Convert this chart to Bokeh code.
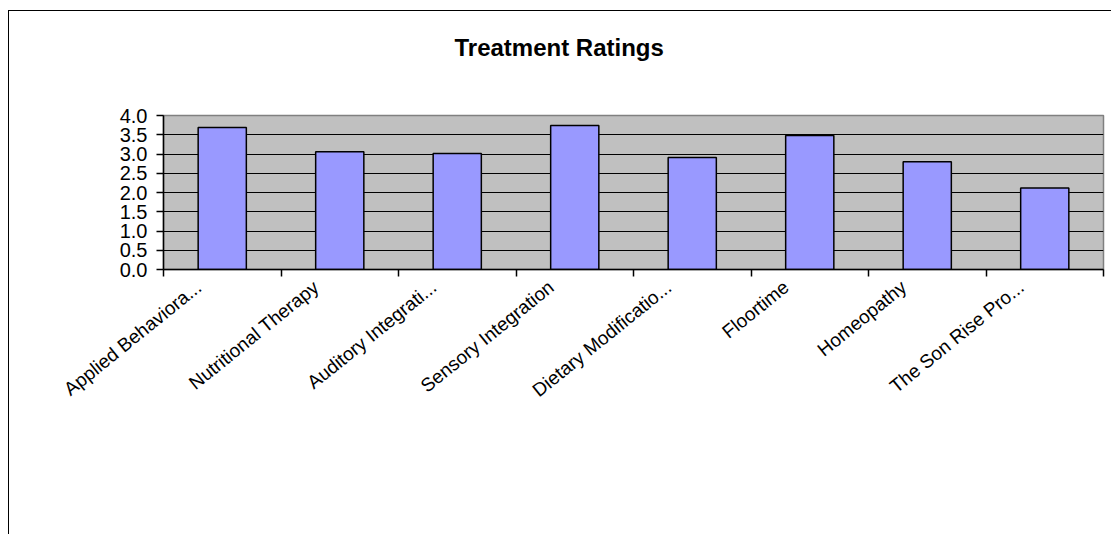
from bokeh.plotting import figure
from bokeh.models import Range1d, LinearAxis, FixedTicker, Title
from bokeh.embed import file_html
from bokeh.resources import INLINE

categories = ["Applied Behaviora...", "Nutritional Therapy", "Auditory Integrati...",
              "Sensory Integration", "Dietary Modificatio...", "Floortime",
              "Homeopathy", "The Son Rise Pro..."]
ratings = [3.69, 3.06, 3.01, 3.74, 2.91, 3.48, 2.80, 2.12]
y_ticks = [0.0, 0.5, 1.0, 1.5, 2.0, 2.5, 3.0, 3.5, 4.0]
y_tick_labels = ["0.0", "0.5", "1.0", "1.5", "2.0", "2.5", "3.0", "3.5", "4.0"]
chart_title = "Treatment Ratings"

FONT = "Liberation Sans"
n = len(categories)
centers = [i + 0.5 for i in range(n)]
boundaries = list(range(n + 1))
label_pos = [c - 0.2 for c in centers]

p = figure(width=1103, height=524, output_backend="svg", toolbar_location=None,
           x_range=Range1d(0, n), y_range=Range1d(0, 4),
           min_border_left=154, min_border_right=9, min_border_top=104,
           min_border_bottom=266, x_axis_location=None, y_axis_location=None,
           margin=(10, 0, 0, 8))
p.styles = {"border-left": "1.5px solid black", "border-top": "1.5px solid black"}

p.background_fill_color = "#C0C0C0"
p.border_fill_color = "white"
p.outline_line_color = "#808080"
p.outline_line_width = 1.5

spacer = Title(text=" ", text_font_size="1px", standoff=32)
p.add_layout(spacer, "above")
t = Title(text=chart_title, align="left", offset=291, text_font=FONT,
          text_font_size="24px", text_font_style="bold", text_color="black",
          standoff=40)
p.add_layout(t, "above")

# y axis
yax = LinearAxis(ticker=FixedTicker(ticks=y_ticks),
                 major_label_overrides={v: s for v, s in zip(y_ticks, y_tick_labels)})
yax.axis_line_color = "black"
yax.axis_line_width = 1.5
yax.major_tick_out = 7
yax.major_tick_in = 0
yax.major_tick_line_width = 1.5
yax.minor_tick_line_color = None
yax.major_label_text_font = FONT
yax.major_label_text_font_size = "20px"
yax.major_label_text_color = "black"
yax.major_label_standoff = 9
p.add_layout(yax, "left")

# x axis: tick marks at category boundaries
xax = LinearAxis(ticker=FixedTicker(ticks=boundaries),
                 major_label_overrides={b: "" for b in boundaries})
xax.axis_line_color = "black"
xax.axis_line_width = 1.5
xax.major_tick_out = 7
xax.major_tick_in = 0
xax.major_tick_line_width = 1.5
xax.minor_tick_line_color = None
xax.major_label_text_font_size = "0px"
xax.major_label_standoff = 0
p.add_layout(xax, "below")

# category labels
xlab = LinearAxis(ticker=FixedTicker(ticks=label_pos),
                  major_label_overrides={lp: c for lp, c in zip(label_pos, categories)})
xlab.axis_line_color = None
xlab.major_tick_line_color = None
xlab.minor_tick_line_color = None
xlab.major_label_text_font = FONT
xlab.major_label_text_font_size = "19px"
xlab.major_label_text_color = "black"
xlab.major_label_orientation = 0.68
xlab.major_label_standoff = 2
p.add_layout(xlab, "below")

p.xgrid.visible = False
p.ygrid.ticker = FixedTicker(ticks=y_ticks[1:-1])
p.ygrid.grid_line_color = "black"
p.ygrid.grid_line_width = 1

p.vbar(x=centers, top=ratings, bottom=0, width=0.41, fill_color="#9999FF",
       line_color="black", line_width=1.5)

open("out.html", "w").write(file_html(p, INLINE))
